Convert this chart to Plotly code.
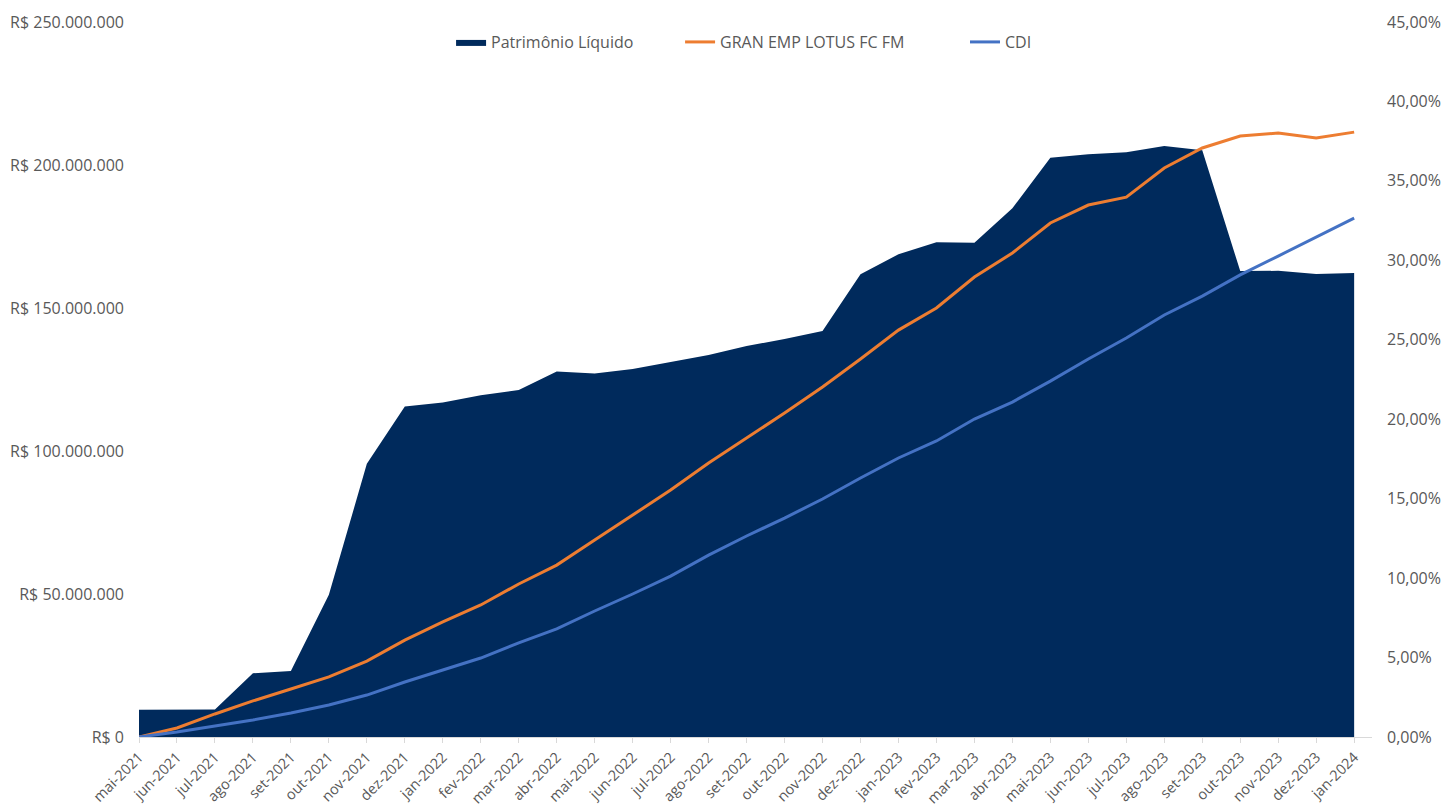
import plotly.graph_objects as go

meses = ["mai-2021", "jun-2021", "jul-2021", "ago-2021", "set-2021", "out-2021", "nov-2021",
         "dez-2021", "jan-2022", "fev-2022", "mar-2022", "abr-2022", "mai-2022", "jun-2022",
         "jul-2022", "ago-2022", "set-2022", "out-2022", "nov-2022", "dez-2022", "jan-2023",
         "fev-2023", "mar-2023", "abr-2023", "mai-2023", "jun-2023", "jul-2023", "ago-2023",
         "set-2023", "out-2023", "nov-2023", "dez-2023", "jan-2024"]

patrimonio = [9.5e6, 9.5e6, 9.6e6, 22.3e6, 23.1e6, 49.7e6, 95.5e6,
              115.6e6, 117.0e6, 119.5e6, 121.3e6, 127.8e6, 127.1e6, 128.7e6,
              131.1e6, 133.6e6, 136.7e6, 139.2e6, 142.0e6, 161.8e6, 168.8e6,
              173.0e6, 172.8e6, 184.9e6, 202.5e6, 203.8e6, 204.5e6, 206.6e6,
              205.2e6, 162.9e6, 163.0e6, 161.9e6, 162.2e6]

gran_emp = [0.0, 0.57, 1.45, 2.27, 3.02, 3.78, 4.78,
            6.10, 7.24, 8.31, 9.63, 10.82, 12.40, 13.97,
            15.54, 17.24, 18.82, 20.39, 22.03, 23.79, 25.61,
            27.0, 28.95, 30.46, 32.35, 33.48, 33.98, 35.81,
            37.07, 37.82, 38.01, 37.70, 38.07]

cdi = [0.0, 0.31, 0.69, 1.07, 1.51, 2.01, 2.64,
       3.46, 4.22, 4.97, 5.92, 6.80, 7.93, 9.0,
       10.13, 11.45, 12.65, 13.78, 14.98, 16.30, 17.56,
       18.63, 20.01, 21.08, 22.40, 23.79, 25.11, 26.56,
       27.75, 29.08, 30.27, 31.47, 32.66]

left_ticks = [0, 50e6, 100e6, 150e6, 200e6, 250e6]
left_ticktext = ["R$ 0", "R$ 50.000.000", "R$ 100.000.000", "R$ 150.000.000",
                 "R$ 200.000.000", "R$ 250.000.000"]

FONT = "Open Sans"
GREY = "#595959"

fig = go.Figure()
fig.add_trace(go.Scatter(
    x=meses, y=patrimonio, name="Patrimônio Líquido", mode="lines",
    fill="tozeroy", fillcolor="#002A5C", line=dict(width=0, color="#002A5C"),
    yaxis="y", legend="legend"))
fig.add_trace(go.Scatter(
    x=meses, y=gran_emp, name="GRAN EMP LOTUS FC FM", mode="lines",
    line=dict(color="#ED7D31", width=3), yaxis="y2", legend="legend"))
fig.add_trace(go.Scatter(
    x=meses, y=cdi, name="CDI", mode="lines",
    line=dict(color="#4472C4", width=3), yaxis="y2", legend="legend2"))

legend_font = dict(family=FONT, size=16, color=GREY)

fig.update_layout(
    width=1445, height=807,
    margin=dict(l=139, r=73, t=22, b=70),
    paper_bgcolor="white", plot_bgcolor="white",
    font=dict(family=FONT, size=16, color=GREY),
    separators=",.",
    showlegend=True,
    legend=dict(orientation="h", x=0.2531, xanchor="left", y=0.972, yanchor="middle",
                font=legend_font, bgcolor="rgba(0,0,0,0)", entrywidth=184,
                traceorder="normal"),
    legend2=dict(orientation="h", x=0.6699, xanchor="left", y=0.972, yanchor="middle",
                 font=legend_font, bgcolor="rgba(0,0,0,0)"),
    xaxis=dict(type="category", range=[0, 32.47], tickangle=-45, automargin=False,
               showgrid=False, showline=True, linecolor="#D9D9D9", linewidth=1,
               ticks="outside", ticklen=5, tickcolor="#D9D9D9",
               tickfont=dict(family=FONT, size=14.5, color=GREY), zeroline=False),
    yaxis=dict(range=[0, 250e6], tickvals=left_ticks, ticktext=left_ticktext,
               showgrid=False, zeroline=False, showline=False, automargin=False,
               ticklabelstandoff=14,
               tickfont=dict(family=FONT, size=16, color=GREY)),
    yaxis2=dict(range=[0, 45], overlaying="y", side="right", dtick=5,
                tickformat=".2f", ticksuffix="%", automargin=False,
                showgrid=False, zeroline=False, showline=False,
                ticklabelstandoff=14,
                tickfont=dict(family=FONT, size=16, color=GREY)),
)

fig.write_html("out.html", config={"displayModeBar": False},
               post_script="document.body.style.margin='0';document.body.style.overflow='hidden';")
